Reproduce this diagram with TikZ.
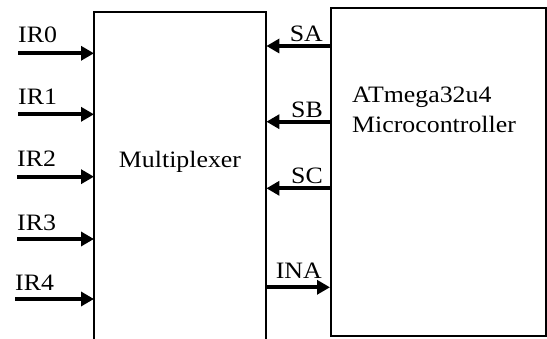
\documentclass[tikz,border=0pt]{standalone}
\usepackage{fontspec}
\setmainfont[FakeStretch=1.1]{Liberation Serif}
\usetikzlibrary{arrows.meta}
\begin{document}
\begin{tikzpicture}[x=1pt,y=-1pt,
  box/.style={draw=black,line width=2pt},
  sig/.style={line width=3.8pt,-{Triangle[length=13pt,width=14pt]}},
  lbl/.style={inner sep=0pt,font=\fontsize{23.5}{30}\selectfont},
]
\useasboundingbox (0,0) rectangle (547,339);
% multiplexer (open at bottom)
\node[inner sep=0pt,minimum width=172pt,minimum height=327pt,anchor=north west] (mux) at (94,12) {};
\draw[box] (mux.south west) -- (mux.north west) -- (mux.north east) -- (mux.south east);
\node[lbl,anchor=base] (muxlabel) at (180,168) {Multiplexer};
% microcontroller
\node[box,inner sep=0pt,minimum width=215pt,minimum height=328pt,anchor=north west] (mcu) at (330,7) {};
\node[lbl,anchor=base west,align=left] (mculabel) at (352,133) {ATmega32u4\\Microcontroller};
% inputs
\coordinate (ir0) at (18,53.3);
\coordinate (ir1) at (18,114.3);
\coordinate (ir2) at (17,176.7);
\coordinate (ir3) at (17,239);
\coordinate (ir4) at (15,299);
\draw[sig] (ir0) -- (ir0 -| mux.west);
\draw[sig] (ir1) -- (ir1 -| mux.west);
\draw[sig] (ir2) -- (ir2 -| mux.west);
\draw[sig] (ir3) -- (ir3 -| mux.west);
\draw[sig] (ir4) -- (ir4 -| mux.west);
\node[lbl,anchor=base west] (l0) at (18,42.7) {IR0};
\node[lbl,anchor=base west] (l1) at (18,104.5) {IR1};
\node[lbl,anchor=base west] (l2) at (17,167) {IR2};
\node[lbl,anchor=base west] (l3) at (17,231) {IR3};
\node[lbl,anchor=base west] (l4) at (15,290.5) {IR4};
% control and output
\coordinate (sa) at (330,46);
\coordinate (sb) at (330,121.7);
\coordinate (sc) at (330,188.3);
\coordinate (ina) at (266,287.3);
\draw[sig] (sa) -- (sa -| mux.east);
\draw[sig] (sb) -- (sb -| mux.east);
\draw[sig] (sc) -- (sc -| mux.east);
\draw[sig] (ina) -- (ina -| mcu.west);
\node[lbl,anchor=base east] (lsa) at (323,41.5) {SA};
\node[lbl,anchor=base east] (lsb) at (323,118) {SB};
\node[lbl,anchor=base east] (lsc) at (323,184) {SC};
\node[lbl,anchor=base east] (lina) at (322,278.3) {INA};
\end{tikzpicture}
\end{document}
